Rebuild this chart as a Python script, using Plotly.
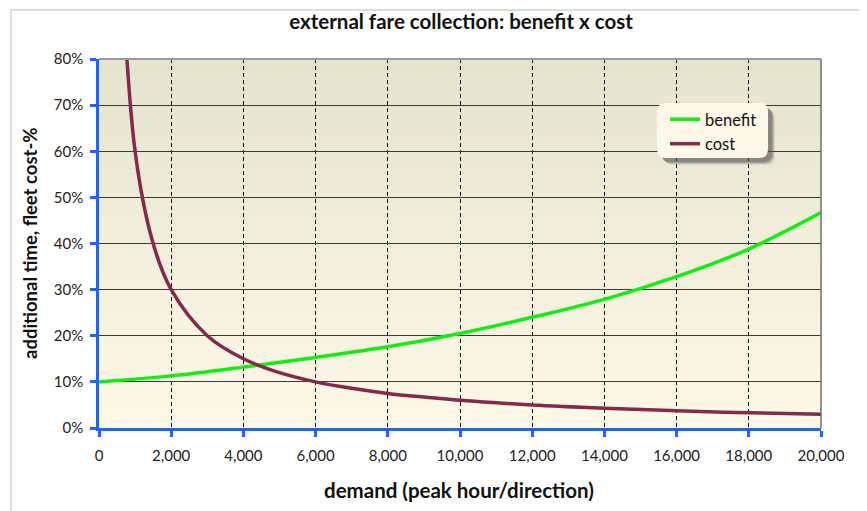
import plotly.graph_objects as go

# ---- data ----
benefit_x = [0, 2000, 4000, 6000, 8000, 10000, 12000, 14000, 16000, 18000, 20000]
benefit_y = [10.0, 11.3, 13.2, 15.3, 17.6, 20.5, 24.0, 27.9, 32.8, 38.8, 46.7]

cost_x = [500, 1000, 1500, 2000, 3000, 4000, 5000, 6000, 7000, 8000, 9000,
          10000, 12000, 14000, 16000, 18000, 20000]
cost_y = [120.0, 60.0, 40.0, 30.0, 20.0, 15.0, 12.0, 10.0, 8.6, 7.5, 6.7,
          6.0, 5.0, 4.3, 3.75, 3.3, 3.0]

x_ticks = [0, 2000, 4000, 6000, 8000, 10000, 12000, 14000, 16000, 18000, 20000]
y_ticks = [0, 10, 20, 30, 40, 50, 60, 70, 80]
y_tick_labels = ["0%", "10%", "20%", "30%", "40%", "50%", "60%", "70%", "80%"]

TITLE = "external fare collection: benefit x cost"
X_TITLE = "demand (peak hour/direction)"
Y_TITLE = "additional time, fleet cost-%"

# ---- geometry (page pixels; the page body has an 8px margin) ----
OFF = 8
W, H = 867, 511
L, R, T, B = 99, 821, 59, 428
PW, PH = R - L, B - T

def px(xp):
    return (xp - L) / PW

def py(yp):
    return (B - yp) / PH

FONT = "Lato"
BLUE = "#2062ff"

fig = go.Figure()
fig.add_trace(go.Scatter(x=benefit_x, y=benefit_y, name="benefit", mode="lines",
                         line=dict(color="#12ee12", width=3.5, shape="spline", smoothing=1)))
fig.add_trace(go.Scatter(x=cost_x, y=cost_y, name="cost", mode="lines",
                         line=dict(color="#84294c", width=3.5, shape="spline", smoothing=1)))

shapes = []
# gradient background
top_c = (229, 228, 207)
bot_c = (254, 249, 231)
N = 60
for i in range(N):
    t = i / (N - 1)
    c = tuple(round(top_c[k] + (bot_c[k] - top_c[k]) * t) for k in range(3))
    y1 = 1 - i / N
    y0 = 1 - (i + 1) / N
    shapes.append(dict(type="rect", xref="paper", yref="paper", x0=0, x1=1, y0=y0, y1=y1 + 0.002,
                       fillcolor="rgb(%d,%d,%d)" % c, line=dict(width=0), layer="below"))
# top and right borders of plot area
shapes.append(dict(type="line", xref="paper", yref="paper", x0=0, x1=1, y0=1, y1=1,
                   line=dict(color="#9a9a9a", width=2), layer="above"))
shapes.append(dict(type="line", xref="paper", yref="paper", x0=1, x1=1, y0=0, y1=1,
                   line=dict(color="#6f6f6f", width=1.5), layer="above"))
# outer border
shapes.append(dict(type="rect", xref="paper", yref="paper", x0=px(11), x1=px(865), y0=py(525), y1=py(10),
                   line=dict(color="#c8dcc4", width=1.5), fillcolor="rgba(0,0,0,0)", layer="below"))

def rounded(x0p, y0p, x1p, y1p, r):
    X0, X1 = px(x0p), px(x1p)
    Yt, Yb = py(y0p), py(y1p)
    rx, ry = r / PW, r / PH
    return (f"M{X0+rx},{Yt} L{X1-rx},{Yt} Q{X1},{Yt} {X1},{Yt-ry} "
            f"L{X1},{Yb+ry} Q{X1},{Yb} {X1-rx},{Yb} L{X0+rx},{Yb} "
            f"Q{X0},{Yb} {X0},{Yb+ry} L{X0},{Yt-ry} Q{X0},{Yt} {X0+rx},{Yt} Z")

# legend shadow + box
for d, op in [(7, 0.12), (6, 0.18), (5, 0.25), (4, 0.3)]:
    shapes.append(dict(type="path", xref="paper", yref="paper",
                       path=rounded(657 + d, 103 + d, 768 + d, 158 + d, 9),
                       fillcolor="rgba(80,80,70,%.2f)" % op, line=dict(width=0), layer="above"))
shapes.append(dict(type="path", xref="paper", yref="paper",
                   path=rounded(657, 103, 768, 158, 9),
                   fillcolor="#fdf8e8", line=dict(width=0), layer="above"))

annotations = [
    dict(text="<b>%s</b>" % X_TITLE, xref="paper", yref="paper", x=px(459), y=py(490),
         showarrow=False, xanchor="center", yanchor="middle",
         font=dict(family=FONT, size=20.5, color="#111")),
    dict(text="<b>%s</b>" % Y_TITLE, xref="paper", yref="paper", x=px(30), y=py(244),
         showarrow=False, xanchor="center", yanchor="middle", textangle=-90,
         font=dict(family=FONT, size=18.5, color="#111")),
]

fig.update_layout(
    width=W, height=H,
    margin=dict(l=L - OFF, r=W - R + OFF, t=T - OFF, b=H - B + OFF, autoexpand=False),
    paper_bgcolor="white",
    plot_bgcolor="#fdf8e6",
    font=dict(family=FONT, size=15, color="#222"),
    title=dict(text="<b>%s</b>" % TITLE, x=px(461), xref="paper", xanchor="center",
               y=1 - (22 - OFF) / H, yref="container", yanchor="middle",
               font=dict(family=FONT, size=20.5, color="#111")),
    showlegend=True,
    legend=dict(x=px(665), y=py(102), xanchor="left", yanchor="top",
                bgcolor="rgba(0,0,0,0)", borderwidth=0,
                font=dict(family=FONT, size=16.5, color="#111"),
                itemwidth=30, tracegroupgap=0),
    shapes=shapes,
    annotations=annotations,
    xaxis=dict(range=[0, 20000], tickvals=x_ticks, tickformat=",d",
               showgrid=True, gridcolor="#111", gridwidth=1, griddash="4px,3px",
               showline=True, linecolor=BLUE, linewidth=2.5,
               ticks="outside", ticklen=6, tickwidth=2.5, tickcolor=BLUE,
               ticklabelstandoff=6, zeroline=False, fixedrange=True),
    yaxis=dict(range=[0, 80], tickmode="array", tickvals=y_ticks, ticktext=y_tick_labels,
               showgrid=True, gridcolor="#3a3a3a", gridwidth=1.3,
               showline=True, linecolor=BLUE, linewidth=2.5,
               ticks="outside", ticklen=6, tickwidth=2.5, tickcolor=BLUE,
               ticklabelstandoff=4, zeroline=False, fixedrange=True),
)

fig.write_html("out.html")
